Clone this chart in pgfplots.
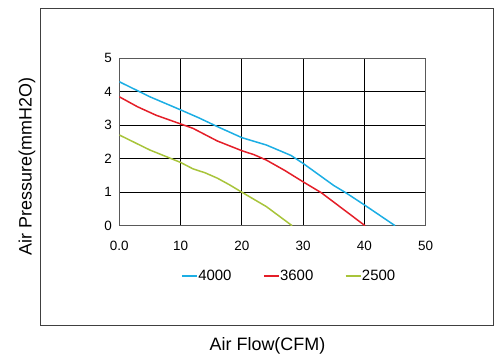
\documentclass[border=0pt]{standalone}
\usepackage{pgfplots}
\pgfplotsset{compat=1.18}
\usepackage{fontspec}
\setmainfont{Liberation Sans}
\definecolor{cblue}{RGB}{28,174,228}
\definecolor{cred}{RGB}{228,30,40}
\definecolor{cgreen}{RGB}{168,196,58}
\begin{document}
\begin{tikzpicture}[x=1bp,y=1bp]
\path (0,0) rectangle (502,358);
\draw[line width=1bp, black!75] (40.3,32.3) rectangle (493.3,349.7);
\node[rotate=90, font=\fontsize{18}{20}\selectfont] at (27,191.5) {Air Pressure(mmH2O)};
\node[font=\fontsize{18}{20}\selectfont] at (267.5,12.3) {Air Flow(CFM)};
\begin{axis}[
  at={(119.3bp,132.3bp)}, anchor=south west,
  scale only axis, width=306.4bp, height=167.4bp,
  xmin=0, xmax=50, ymin=0, ymax=5,
  xtick={0,10,20,30,40,50}, xticklabels={0.0,10,20,30,40,50},
  ytick={0,1,2,3,4,5},
  grid=major, grid style={black, line width=1.1bp},
  axis line style={black!65, line width=1bp},
  major tick length=0pt,
  tick label style={font=\fontsize{13.5}{15}\selectfont},
  /pgf/number format/assume math mode=true,
  xticklabel style={yshift=-12bp},
  yticklabel style={xshift=-4bp},
  legend columns=3,
  legend style={draw=none, fill=none, at={(0.552,-0.30)}, anchor=center,
    font=\fontsize{15}{16}\selectfont, inner sep=0pt,
    /tikz/every even column/.append style={column sep=30bp},
    /tikz/every odd column/.append style={column sep=-1bp},
    nodes={inner sep=1bp}},
  legend image code/.code={\draw[line width=2.6bp] (0bp,0bp) -- (15bp,0bp);},
  every axis plot/.append style={line width=1.5bp},
]
\addplot[cblue] coordinates {(0,4.30) (5,3.85) (10,3.46) (13,3.22) (16,2.96) (20,2.63) (24,2.41) (28,2.10) (30,1.86) (35,1.20) (37,0.98) (40,0.62) (45,0)};
\addlegendentry{4000}
\addplot[cred] coordinates {(0,3.85) (3,3.55) (6,3.30) (10,3.04) (12,2.91) (16,2.53) (20,2.24) (22,2.12) (24,1.96) (27,1.65) (30,1.31) (33,0.98) (40.1,0)};
\addlegendentry{3600}
\addplot[cgreen] coordinates {(0,2.71) (5,2.26) (10,1.89) (12,1.70) (14,1.58) (16,1.42) (18,1.22) (20,1.00) (24,0.57) (28.2,0)};
\addlegendentry{2500}
\end{axis}
\end{tikzpicture}
\end{document}
